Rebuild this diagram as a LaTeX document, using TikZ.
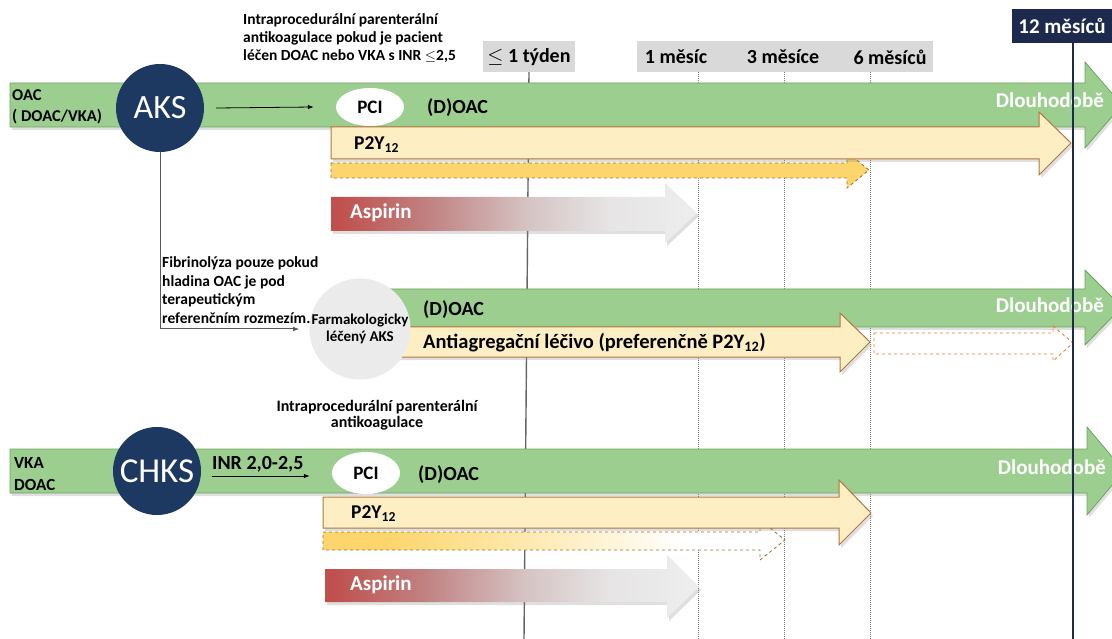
\documentclass[tikz,border=0pt]{standalone}
\usepackage{fontspec}
\setmainfont{Carlito}
\usetikzlibrary{shapes.geometric,arrows.meta,shadows,calc}
\definecolor{grn}{RGB}{156,207,143}
\definecolor{grnd}{RGB}{112,163,96}
\definecolor{crm}{RGB}{253,238,196}
\definecolor{crmd}{RGB}{178,118,62}
\definecolor{gold}{RGB}{252,214,108}
\definecolor{goldd}{RGB}{150,120,60}
\definecolor{navy}{RGB}{29,57,98}
\definecolor{navyb}{RGB}{29,42,78}
\definecolor{boxg}{RGB}{217,217,217}
\definecolor{circg}{RGB}{235,235,235}
\definecolor{orng}{RGB}{237,125,49}
\definecolor{asp1}{RGB}{192,80,77}
\definecolor{asp2}{RGB}{192,128,128}
\definecolor{asp3}{RGB}{214,196,196}
\definecolor{asp4}{RGB}{230,228,228}
\definecolor{asp5}{RGB}{238,238,238}
\pgfdeclarehorizontalshading{aspshade}{100bp}{color(0bp)=(asp1); color(26bp)=(asp1); color(38bp)=(asp2); color(52bp)=(asp3); color(63bp)=(asp4); color(75bp)=(asp5); color(100bp)=(asp5)}
\pgfdeclarehorizontalshading{goldfade}{100bp}{color(0bp)=(gold); color(32bp)=(gold); color(50bp)=(gold!45!white); color(64bp)=(white); color(100bp)=(white)}
\tikzset{
  shd/.style={drop shadow={shadow xshift=2pt, shadow yshift=-3pt, opacity=0.25}},
  greenarrow/.style={fill=grn, draw=grnd, line width=0.8pt, shd},
  creamarrow/.style={fill=crm, draw=crmd, line width=1pt, shd},
  goldarrow/.style={fill=gold, draw=goldd, dashed, line width=0.9pt},
  fadearrow/.style={shade, shading=goldfade, draw=goldd, dashed, line width=0.9pt},
  asparrow/.style={shade, shading=aspshade, shd},
  orngarrow/.style={draw=orng, dashed, line width=0.9pt},
  lbl/.style={font=\fontsize{20}{22}\selectfont\bfseries, inner sep=0},
  mlbl/.style={font=\fontsize{19.5}{22}\selectfont\bfseries, inner sep=0},
  wlbl/.style={text=white, font=\fontsize{21}{24}\selectfont\bfseries, inner sep=0},
  note/.style={font=\fontsize{15.5}{18}\selectfont\bfseries, align=left, inner sep=0},
  side/.style={font=\fontsize{16.5}{21}\selectfont\bfseries, align=left, inner sep=0},
  bigcirc/.style={circle, fill=navy, text=white, minimum size=88pt, inner sep=0},
  pci/.style={ellipse, fill=white, font=\fontsize{19}{22}\selectfont\bfseries, minimum width=68pt, minimum height=38pt, inner sep=0},
  tbox/.style={fill=boxg, inner sep=0},
  grid/.style={gray, densely dotted, line width=1pt},
  conn/.style={line width=0.8pt, -{Latex[length=6pt,width=4.5pt]}},
}
\begin{document}
\begin{tikzpicture}[x=1pt,y=-1pt]
\useasboundingbox (0,0) rectangle (1112,639);
\clip (0,0) rectangle (1112,639);
% timeline boxes
\node[tbox, minimum width=92pt, minimum height=31pt] (wk) at (529,56.5) {};
\node[lbl] at (529,57) {$\leq$ 1 týden};
\node[tbox, minimum width=296pt, minimum height=31pt] (mo) at (785,56.5) {};
\node[lbl] (m1) at (676,57) {1 měsíc};
\node[lbl] (m3) at (783,57) {3 měsíce};
\node[lbl] (m6) at (890,57) {6 měsíců};
\node[fill=navyb, minimum width=100pt, minimum height=34pt, inner sep=0, text=white, font=\fontsize{21}{24}\selectfont\bfseries] (yr) at (1062,26) {12 měsíců};
% grid lines
\draw[gray!80!black, line width=1.4pt] (wk.south) -- (524,639);
\draw[grid] (698,72) -- (698,639);
\draw[grid] (784,72) -- (784,639);
\draw[grid] (870,72) -- (870,639);
% ---------- row 1 ----------
\node[note, anchor=west] (note1) at (243,38) {Intraprocedurální parenterální\\antikoagulace pokud je pacient\\léčen DOAC nebo VKA s INR $\leq$2,5};
\path[greenarrow] (10,83) -- (1085,83) -- (1085,62) -- (1122,105) -- (1085,148) -- (1085,127) -- (10,127) -- cycle;
\path[goldarrow] (331,163) -- (847,163) -- (847,152) -- (869,170) -- (847,188) -- (847,178) -- (331,178) -- cycle;
\path[creamarrow] (331,127) -- (1039,127) -- (1039,112) -- (1071,143) -- (1039,175) -- (1039,159) -- (331,159) -- cycle;
\path[asparrow] (331,197) -- (665,197) -- (665,183) -- (697,213) -- (665,243) -- (665,231) -- (331,231) -- cycle;
\node[side, anchor=west] at (12,107) {OAC\\( DOAC/VKA)};
\node[bigcirc, font=\fontsize{34}{36}\selectfont] (aks) at (160,108) {AKS};
\node[pci] (pci1) at (370,107) {PCI};
\draw[conn] (aks.east) ++(12,0) -- ([xshift=-22pt]pci1.west);
\node[lbl, anchor=west] at (427,108) {(D)OAC};
\node[mlbl, anchor=west] at (354,145) {P2Y\textsubscript{12}};
\node[wlbl, anchor=west] at (350,213) {Aspirin};
\node[wlbl, anchor=east] at (1104,100) {Dlouhodobě};
% ---------- row 2 ----------
\path[greenarrow] (370,289) -- (1085,289) -- (1085,270) -- (1122,307) -- (1085,345) -- (1085,327) -- (370,327) -- cycle;
\path[creamarrow] (395,327) -- (840,327) -- (840,313) -- (870,342) -- (840,372) -- (840,357) -- (395,357) -- cycle;
\path[orngarrow] (874,333) -- (1053,333) -- (1053,326) -- (1073,343) -- (1053,361) -- (1053,354) -- (874,354) -- cycle;
\node[circle, fill=circg, minimum size=92pt, inner sep=0, align=center, font=\fontsize{15}{17}\selectfont\bfseries] (farm) at (360,329) {Farmakologicky\\léčený AKS};
\node[font=\fontsize{15.5}{18.7}\selectfont\bfseries, align=left, inner sep=0, anchor=west] at (162,290) {Fibrinolýza pouze pokud\\hladina OAC je pod\\terapeutickým\\referenčním rozmezím.};
\draw[conn, gray!70!black, line width=1pt] (aks.south) |- ([xshift=-10pt]farm.west);
\node[lbl, anchor=west] at (423,310) {(D)OAC};
\node[font=\fontsize{20.5}{22}\selectfont\bfseries, inner sep=0, anchor=west] at (423,343) {Antiagregační léčivo (preferenčně P2Y\textsubscript{12})};
\node[wlbl, anchor=east] at (1104,305) {Dlouhodobě};
% ---------- row 3 ----------
\node[font=\fontsize{16}{16}\selectfont\bfseries, align=center, inner sep=0] (note3) at (377,415) {Intraprocedurální parenterální\\antikoagulace};
\path[greenarrow] (10,449) -- (1087,449) -- (1087,427) -- (1124,471) -- (1087,515) -- (1087,493) -- (10,493) -- cycle;
\path[fadearrow] (323,532) -- (760,532) -- (760,520) -- (785,540) -- (760,560) -- (760,550) -- (323,550) -- cycle;
\path[creamarrow] (323,497) -- (839,497) -- (839,480) -- (871,513) -- (839,545) -- (839,528) -- (323,528) -- cycle;
\path[asparrow] (325,569) -- (667,569) -- (667,555) -- (699,587) -- (667,618) -- (667,602) -- (325,602) -- cycle;
\node[font=\fontsize{17}{22}\selectfont\bfseries, align=left, inner sep=0, anchor=west] at (14,474) {VKA\\DOAC};
\node[bigcirc, font=\fontsize{35}{36}\selectfont] (chks) at (157,471) {CHKS};
\node[pci, minimum height=42pt] (pci3) at (366,473) {PCI};
\node[lbl, anchor=south west] (inr) at (212,472) {INR 2,0-2,5};
\draw[conn] ($(inr.south west)+(0,4)$) -- ($(pci3.west)+(-22,3)$);
\node[lbl, anchor=west] at (418,475) {(D)OAC};
\node[mlbl, anchor=west] at (351,514) {P2Y\textsubscript{12}};
\node[wlbl, anchor=west] at (350,585) {Aspirin};
\node[wlbl, anchor=east] at (1106,467) {Dlouhodobě};
% 12-month line
\draw[navyb, line width=2.6pt] (1073,42) -- (1073,639);
\end{tikzpicture}
\end{document}
